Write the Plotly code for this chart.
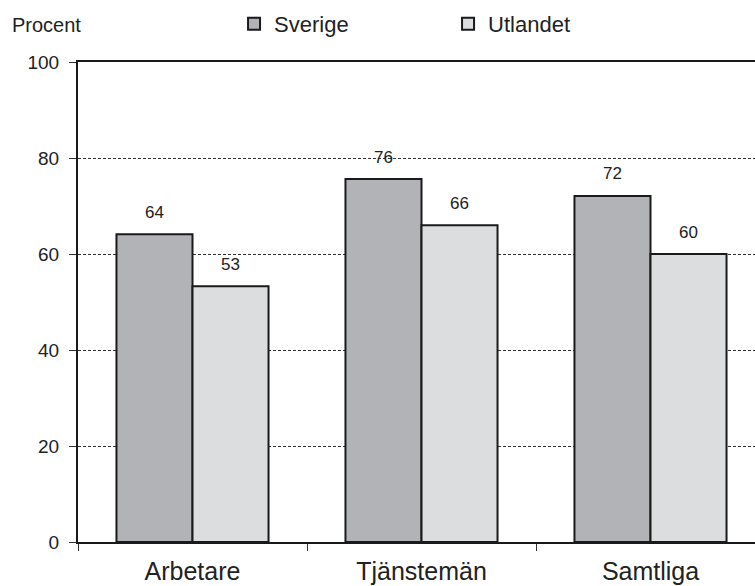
import plotly.graph_objects as go

categories = ["Arbetare", "Tjänstemän", "Samtliga"]
sverige = [64.1, 75.6, 72.1]
utlandet = [53.3, 66.0, 60.0]
sverige_labels = ["64", "76", "72"]
utlandet_labels = ["53", "66", "60"]
y_ticks = [0, 20, 40, 60, 80, 100]

FONT = "Liberation Sans, Arial, sans-serif"
TXT = "#222"

fig = go.Figure()
fig.add_trace(go.Bar(
    name="Sverige", x=categories, y=sverige,
    marker=dict(color="#b2b3b6", line=dict(color="#1a1a1a", width=2)),
))
fig.add_trace(go.Bar(
    name="Utlandet", x=categories, y=utlandet,
    marker=dict(color="#dcdddf", line=dict(color="#1a1a1a", width=2)),
))

annotations = [dict(
    text="Procent", xref="paper", yref="paper", x=(10 - 78) / 677, y=1 + (62 - 25) / 480,
    xanchor="left", yanchor="middle", showarrow=False,
    font=dict(size=20, color=TXT),
)]
for series, labels, shift in ((sverige, sverige_labels, -38), (utlandet, utlandet_labels, 38)):
    for c, v, lab in zip(categories, series, labels):
        annotations.append(dict(
            text=lab, x=c, y=v, xref="x", yref="y", xshift=shift, yshift=22,
            xanchor="center", yanchor="middle", showarrow=False,
            font=dict(size=17, color=TXT),
        ))

fig.update_layout(
    width=755, height=586,
    margin=dict(l=78, r=0, t=62, b=44),
    paper_bgcolor="white", plot_bgcolor="white",
    font=dict(family=FONT, color=TXT),
    barmode="group", bargap=0.336, bargroupgap=0,
    showlegend=True,
    legend=dict(
        orientation="h", xref="container", yref="container",
        x=0.31, y=0.995, xanchor="left", yanchor="top",
        entrywidth=169, itemwidth=30,
        font=dict(size=22, color=TXT),
        bgcolor="rgba(0,0,0,0)",
    ),
    annotations=annotations,
)
fig.update_xaxes(
    range=[-0.5, -0.5 + 677 / 229], tickson="boundaries",
    ticks="outside", ticklen=7, tickcolor="#333", ticklabelstandoff=6,
    showline=True, linecolor="#1a1a1a", linewidth=2, mirror=True,
    tickfont=dict(size=25, color=TXT), showgrid=False,
)
fig.update_yaxes(
    range=[0, 100], tickvals=y_ticks,
    ticks="outside", ticklen=7, tickcolor="#333", ticklabelstandoff=6,
    showline=True, linecolor="#1a1a1a", linewidth=2,
    showgrid=True, gridcolor="#333", gridwidth=1, griddash="3px,2px",
    tickfont=dict(size=19, color=TXT), zeroline=False,
)

fig.write_html("out.html", config={"displayModeBar": False},
               post_script="document.body.style.margin='0';")
